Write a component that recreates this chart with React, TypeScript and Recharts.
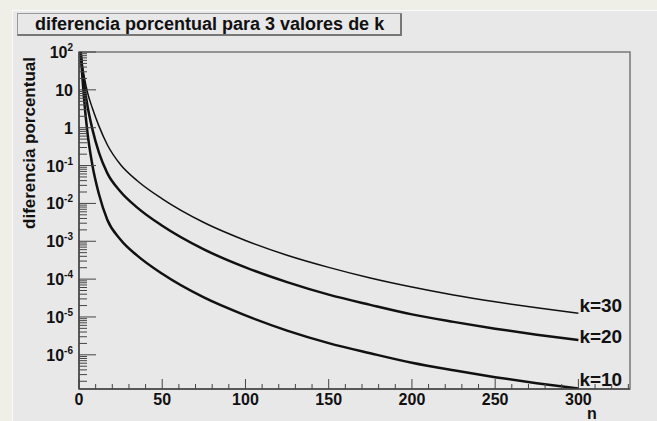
import React from "react";
import { LineChart, Line, XAxis, YAxis, ReferenceArea, LabelList } from "recharts";

const nValues = [1, 2, 3, 5, 8, 12, 17, 25, 35, 50, 75, 100, 125, 150, 175, 200, 225, 250, 275, 300];
const k30 = [100, 44.7, 24.0, 8.91, 3.31, 1.10, 0.355, 0.105, 0.0398, 0.0132, 0.00313, 0.00105, 4.27e-4, 2.04e-4, 1.07e-4, 6.17e-5, 3.80e-5, 2.51e-5, 1.74e-5, 1.26e-5];
const k20 = [100, 35.5, 15.1, 3.98, 0.933, 0.219, 0.0631, 0.0204, 0.00776, 0.00257, 6.1e-4, 2.04e-4, 8.32e-5, 3.89e-5, 2.09e-5, 1.17e-5, 7.41e-6, 4.90e-6, 3.39e-6, 2.45e-6];
const k10 = [100, 22.4, 6.03, 0.794, 0.105, 0.0174, 0.00372, 0.0011, 4.17e-4, 1.38e-4, 3.27e-5, 1.1e-5, 4.37e-6, 2.04e-6, 1.10e-6, 6.17e-7, 3.89e-7, 2.57e-7, 1.78e-7, 1.29e-7];
const seriesLabels = ["k=30", "k=20", "k=10"];
const titleText = "diferencia porcentual para 3 valores de k";
const yTitle = "diferencia porcentual";
const xTitle = "n";
const xMajorTicks = [0, 50, 100, 150, 200, 250, 300];
const yMajorExponents = [-6, -5, -4, -3, -2, -1, 0, 1, 2];

const data = nValues.map((n, i) => ({ n, k30: k30[i], k20: k20[i], k10: k10[i] }));

const xTicks: number[] = [];
for (let v = 0; v <= 330; v += 10) xTicks.push(v);
const yTicks: number[] = [];
for (let e = -7; e <= 1; e++) {
  for (let m = 1; m <= 9; m++) {
    const v = m * Math.pow(10, e);
    if (v >= 1.25e-7 && v <= 100) yTicks.push(Number(v.toPrecision(3)));
  }
}
yTicks.push(100);

const FONT = "'Liberation Sans', Arial, Helvetica, sans-serif";

const XTick = (props: any) => {
  const { x, y, payload } = props;
  const v = payload.value;
  const major = xMajorTicks.includes(v);
  return (
    <g>
      <line x1={x} x2={x} y1={y} y2={y - (major ? 10 : 5)} stroke="#444" strokeWidth={1} />
      {major && (
        <text x={x} y={y + 16} textAnchor="middle" fontFamily={FONT} fontWeight="bold" fontSize={16} fill="#111">
          {v}
        </text>
      )}
    </g>
  );
};

const YTick = (props: any) => {
  const { x, y, payload } = props;
  const v = payload.value;
  const e = Math.round(Math.log10(v));
  const major = Math.abs(v - Math.pow(10, e)) / v < 1e-6 && yMajorExponents.includes(e);
  let label: any = null;
  if (major) {
    if (e === 0) label = "1";
    else if (e === 1) label = "10";
    else
      label = (
        <>
          10
          <tspan dy={-7} fontSize={10}>{String(e)}</tspan>
        </>
      );
  }
  return (
    <g>
      <line x1={x} x2={x + (major ? 17 : 8)} y1={y} y2={y} stroke="#444" strokeWidth={1} />
      {major && (
        <text x={x - 6} y={y + 6} textAnchor="end" fontFamily={FONT} fontWeight="bold" fontSize={16} fill="#111">
          {label}
        </text>
      )}
    </g>
  );
};

const makeEndLabel = (text: string, dy: number) => (props: any) => {
  const { x, y, index } = props;
  if (index !== nValues.length - 1) return null;
  return (
    <text x={x + 1} y={y + dy} fontFamily={FONT} fontWeight="bold" fontSize={19} fill="#111">
      {text}
    </text>
  );
};

export default function App() {
  return (
    <div style={{ position: "absolute", left: 0, top: 0, width: 657, height: 421, background: "#efefe7", overflow: "hidden" }}>
      <div
        style={{
          position: "absolute",
          left: 12,
          top: 10,
          width: 645,
          height: 411,
          background: "#e8e8e8",
          borderTop: "1px solid #fbfbfb",
          borderLeft: "1px solid #fbfbfb",
          boxSizing: "border-box",
        }}
      />
      <div
        style={{
          position: "absolute",
          left: 17,
          top: 13,
          width: 385,
          height: 23,
          boxSizing: "border-box",
          borderTop: "1px solid #999",
          borderLeft: "1px solid #999",
          borderRight: "2px solid #777",
          borderBottom: "2px solid #777",
          background: "#e8e8e8",
          fontFamily: FONT,
          fontWeight: "bold",
          fontSize: 18,
          lineHeight: "20px",
          paddingLeft: 17,
          textAlign: "left",
          color: "#111",
          whiteSpace: "nowrap",
        }}
      >
        {titleText}
      </div>
      <div style={{ position: "absolute", left: 0, top: 0 }}>
        <LineChart width={657} height={421} data={data} margin={{ top: 52, right: 27, bottom: 0, left: 0 }}>
          <XAxis
            dataKey="n"
            type="number"
            domain={[0, 331]}
            ticks={xTicks}
            interval={0}
            tick={<XTick />}
            tickSize={0}
            tickMargin={0}
            tickLine={false}
            height={32}
            axisLine={{ stroke: "#444", strokeWidth: 1.5 }}
            allowDataOverflow
          />
          <YAxis
            type="number"
            scale="log"
            domain={[1.25e-7, 100]}
            ticks={yTicks}
            interval={0}
            tick={<YTick />}
            tickSize={0}
            tickMargin={0}
            tickLine={false}
            width={79}
            axisLine={{ stroke: "#444", strokeWidth: 1.5 }}
            allowDataOverflow
          />
          <ReferenceArea x1={0} x2={331} y1={1.25e-7} y2={100} fill="none" stroke="#777" strokeWidth={1.5} />
          <Line dataKey="k30" type="monotone" stroke="#111" strokeWidth={1.5} dot={false} isAnimationActive={false}>
            <LabelList dataKey="k30" content={makeEndLabel(seriesLabels[0], -1)} />
          </Line>
          <Line dataKey="k20" type="monotone" stroke="#111" strokeWidth={2.5} dot={false} isAnimationActive={false}>
            <LabelList dataKey="k20" content={makeEndLabel(seriesLabels[1], 3)} />
          </Line>
          <Line dataKey="k10" type="monotone" stroke="#111" strokeWidth={2.5} dot={false} isAnimationActive={false}>
            <LabelList dataKey="k10" content={makeEndLabel(seriesLabels[2], -2)} />
          </Line>
        </LineChart>
      </div>
      <div
        style={{
          position: "absolute",
          left: 30,
          top: 143,
          transform: "translate(-50%, -50%) rotate(-90deg)",
          fontFamily: FONT,
          fontWeight: "bold",
          fontSize: 17,
          whiteSpace: "nowrap",
          color: "#111",
        }}
      >
        {yTitle}
      </div>
      <div
        style={{
          position: "absolute",
          left: 587,
          top: 407,
          fontFamily: FONT,
          fontWeight: "bold",
          fontSize: 16,
          lineHeight: "14px",
          color: "#111",
        }}
      >
        {xTitle}
      </div>
    </div>
  );
}
